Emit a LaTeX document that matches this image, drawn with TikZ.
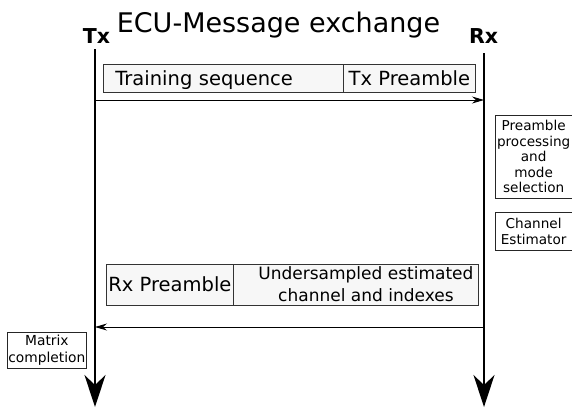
\documentclass[tikz,border=0pt]{standalone}
\usepackage{fontspec}
\setmainfont{DejaVu Sans}
\usetikzlibrary{arrows.meta}
\tikzset{
  lifeline/.style={line width=1.6pt, -{Stealth[length=32pt,width=21pt,inset=10pt]}},
  msg/.style={line width=0.9pt, -{Stealth[length=12pt,width=7pt,inset=4pt]}},
  cell/.style={draw=black!80, fill=black!3, line width=0.8pt, inner sep=0pt, text depth=0pt, text height=14pt,
    font=\fontsize{19.5}{23}\selectfont},
  proc/.style={draw=black!85, fill=white, line width=0.8pt, inner sep=0pt, align=center,
    font=\fontsize{13.6}{15.5}\selectfont},
  endlabel/.style={font=\bfseries\fontsize{20.5}{24}\selectfont, anchor=base, inner sep=0pt},
}
\begin{document}
\begin{tikzpicture}[x=1pt,y=-1pt]
\useasboundingbox[fill=white] (0,0) rectangle (572,410);
% titles
\node[font=\fontsize{27}{32}\selectfont, anchor=base, inner sep=0pt] (title) at (278.5,32) {ECU-Message exchange};
\node[endlabel] (tx) at (96.5,43) {Tx};
\node[endlabel] (rx) at (483.5,43) {Rx};
% lifelines
\coordinate (txtop) at (95,49);
\coordinate (txbot) at (95,407);
\coordinate (rxtop) at (484,53);
\coordinate (rxbot) at (484,407);
\draw[lifeline] (txtop) -- (txbot);
\draw[lifeline] (rxtop) -- (rxbot);
% first message
\node[cell, anchor=north west, minimum width=240pt, minimum height=28pt, text width=216pt, inner xsep=12pt, align=left] (ts) at (103,64) {Training sequence};
\node[cell, anchor=north west, minimum width=132pt, minimum height=28pt] (tp) at (343,64) {Tx Preamble};
\coordinate (m1a) at (95,100);
\coordinate (m1b) at (484,100);
\draw[msg] (m1a) -- (m1b);
% processing at Rx
\node[proc, anchor=north west, minimum width=76.5pt, minimum height=83pt] (pp) at (495,115) {Preamble\\processing\\and\\mode\\selection};
\node[proc, anchor=north west, minimum width=76.5pt, minimum height=38pt] (ce) at (495,212) {Channel\\Estimator};
% second message
\node[cell, anchor=north west, minimum width=127pt, minimum height=41pt] (rp) at (106,264) {Rx Preamble};
\node[cell, anchor=north west, minimum width=245pt, minimum height=41pt] (uc) at (233,264) {};
\node[font=\fontsize{17}{21.7}\selectfont, align=center, inner sep=0pt] (uctext) at ([xshift=10pt,yshift=1pt]uc.center) {Undersampled estimated\\channel and indexes};
\coordinate (m2a) at (484,327);
\coordinate (m2b) at (95,327);
\draw[msg] (m2a) -- (m2b);
% processing at Tx
\node[proc, anchor=north west, minimum width=79pt, minimum height=36pt, font=\fontsize{13.8}{17}\selectfont] (mc) at (7,332) {Matrix\\completion};
\end{tikzpicture}
\end{document}
